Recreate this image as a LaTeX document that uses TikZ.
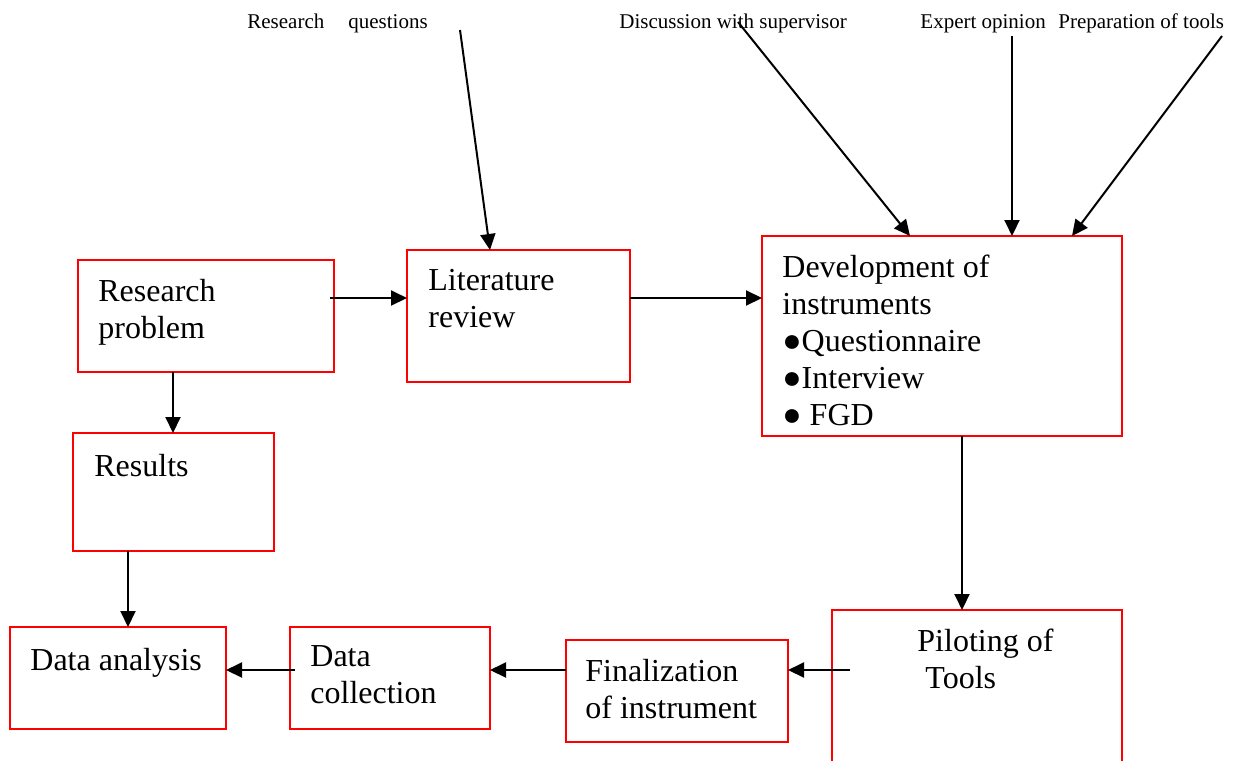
\documentclass[tikz,border=0pt]{standalone}
\usepackage{fontspec}
\setmainfont{Liberation Serif}
\usetikzlibrary{arrows.meta,calc}

\tikzset{
  box/.style={draw=red, line width=0.8pt, inner sep=0pt, outer sep=0pt},
  lbl/.style={anchor=north west, inner sep=0pt, align=left,
    font=\fontsize{16}{18.5}\selectfont, execute at begin node=\strut},
  note/.style={anchor=base west, inner sep=0pt, font=\fontsize{10.5}{12}\selectfont},
  arr/.style={-{Triangle[length=8pt,width=7.5pt]}, line width=1pt}
}

\begin{document}
\begin{tikzpicture}[x=0.5pt, y=-0.5pt]
  \useasboundingbox (0,0) rectangle (1234,760);

  % Boxes
  \node[box, minimum width=128pt, minimum height=56pt] (prob) at (206,316) {};
  \node[box, minimum width=111.5pt, minimum height=66pt] (lit) at (518.5,316) {};
  \node[box, minimum width=180pt, minimum height=100pt] (dev) at (942,336) {};
  \node[box, minimum width=100.5pt, minimum height=59pt] (res) at (173.5,492) {};
  \node[box, minimum width=108pt, minimum height=51pt] (anal) at (118,678) {};
  \node[box, minimum width=100pt, minimum height=51pt] (coll) at (390,678) {};
  \node[box, minimum width=111pt, minimum height=51pt] (fin) at (677,691) {};
  \node[box, minimum width=145pt, minimum height=82.5pt] (pilot) at (977,692.5) {};

  % Box texts
  \node[lbl] (probtxt) at (98,279) {Research\\problem};
  \node[lbl] (littxt) at (428,269) {Literature\\review};
  \node[lbl] (devtxt) at (782,255) {Development of\\instruments\\●Questionnaire\\●Interview\\● FGD};
  \node[lbl] (restxt) at (94,450) {Results};
  \node[lbl] (analtxt) at (30,644) {Data analysis};
  \node[lbl] (colltxt) at (310,645) {Data\\collection};
  \node[lbl] (fintxt) at (585,659) {Finalization\\of instrument};
  \node[lbl] (pilottxt) at (917,629) {Piloting of\\\ Tools};

  % Top notes
  \node[note] (rq) at (247,28) {Research\hspace{12pt}questions};
  \node[note] (disc) at (619,28) {Discussion with supervisor};
  \node[note] (expert) at (920,28) {Expert opinion};
  \node[note] (prep) at (1058,28) {Preparation of tools};

  \coordinate (rqend) at (460,30);
  \coordinate (discend) at (738,22);
  \coordinate (expertend) at (1012,36);
  \coordinate (prepend) at (1222,36);

  % Arrows from the notes
  \draw[arr] (rqend) -- ([xshift=-14.25pt]lit.north);
  \draw[arr] (discend) -- ([xshift=-16pt]dev.north);
  \draw[arr] (expertend) -- ([xshift=35pt]dev.north);
  \draw[arr] (prepend) -- ([xshift=65pt]dev.north);

  % Arrows between boxes
  \draw[arr] ([shift={(-4,-18)}]prob.east) -- ([yshift=9pt]lit.west);
  \draw[arr] ([yshift=9pt]lit.east) -- ([yshift=19pt]dev.west);
  \draw[arr] ([xshift=10pt]dev.south) -- ([xshift=-7.5pt]pilot.north);
  \draw[arr] ([shift={(18,-22.5)}]pilot.west) -- ([yshift=10.5pt]fin.east);
  \draw[arr] ([yshift=10.5pt]fin.west) -- ([yshift=4pt]coll.east);
  \draw[arr] ([shift={(5,-8)}]coll.west) -- ([yshift=4pt]anal.east);
  \draw[arr] ([xshift=-16.5pt]prob.south) -- ([xshift=-0.25pt]res.north);
  \draw[arr] ([xshift=-22.75pt]res.south) -- ([xshift=5pt]anal.north);
\end{tikzpicture}
\end{document}
